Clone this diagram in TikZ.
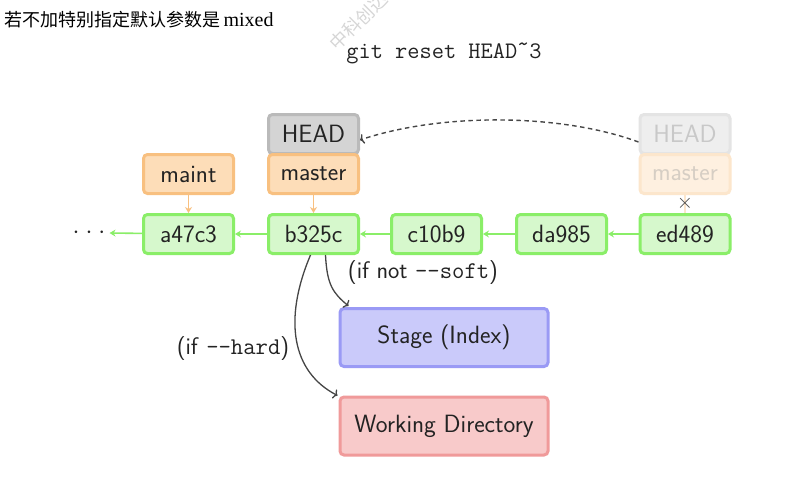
\documentclass[tikz,border=0pt]{standalone}
\usepackage{fontspec}
\newfontfamily\cjk{Noto Sans CJK SC}
\newfontfamily\tms{Liberation Serif}
\usetikzlibrary{arrows.meta,calc}
\definecolor{grnB}{RGB}{138,238,104}
\definecolor{grnF}{RGB}{214,248,204}
\definecolor{orgB}{RGB}{248,192,128}
\definecolor{orgF}{RGB}{253,221,184}
\definecolor{gryB}{RGB}{186,186,186}
\definecolor{gryF}{RGB}{212,212,212}
\definecolor{ghB}{RGB}{228,228,228}
\definecolor{ghF}{RGB}{238,238,238}
\definecolor{ghT}{RGB}{200,200,200}
\definecolor{gmB}{RGB}{252,230,204}
\definecolor{gmF}{RGB}{254,240,224}
\definecolor{gmT}{RGB}{214,206,196}
\definecolor{stB}{RGB}{154,154,245}
\definecolor{stF}{RGB}{202,202,250}
\definecolor{wdB}{RGB}{240,154,154}
\definecolor{wdF}{RGB}{248,202,202}
\definecolor{boxtext}{RGB}{35,35,35}
\definecolor{arr}{RGB}{70,70,70}
\definecolor{wm}{RGB}{214,214,214}
\begin{document}
\begin{tikzpicture}[x=1pt,y=-1pt,
  box/.style={rounded corners=4pt, line width=3pt, minimum width=90pt, minimum height=39pt,
    inner sep=0pt, font=\sffamily\fontsize{25}{28}\selectfont, text=boxtext},
  commit/.style={box, draw=grnB, fill=grnF},
  branch/.style={box, draw=orgB, fill=orgF},
  headbox/.style={box, draw=gryB, fill=gryF},
  ghosthead/.style={box, draw=ghB, fill=ghF, text=ghT},
  ghostbranch/.style={box, draw=gmB, fill=gmF, text=gmT},
  area/.style={box, minimum width=208pt, minimum height=58pt, font=\sffamily\fontsize{25}{28}\selectfont},
  garrow/.style={draw=grnB, line width=1.6pt, -{Stealth[length=6pt,width=7pt,inset=2pt]}},
  oarrow/.style={draw=orgB, line width=1.6pt, -{Stealth[length=6pt,width=7pt,inset=2pt]}},
  darrow/.style={draw=arr, line width=1.3pt, -{To[length=4pt,width=10pt]}},
  lbl/.style={font=\sffamily\fontsize{24}{28}\selectfont, text=boxtext, inner sep=0pt}
]
\useasboundingbox (0,0) rectangle (787,479);
\fill[white] (0,0) rectangle (787,479);

% watermark
\node[wm, anchor=west, rotate=45, inner sep=0pt, font=\cjk\fontsize{18}{20}\selectfont] (wmark) at (333,47) {中科创达};

% top texts
\node[anchor=west, inner sep=0pt] (note) at (4,20) {{\cjk\fontsize{18}{20}\selectfont 若不加特别指定默认参数是} {\tms\fontsize{20}{22}\selectfont mixed}};
\node[inner sep=0pt, font=\ttfamily\fontsize{23.7}{26}\selectfont, text=boxtext] (cmd) at (444,53) {git reset HEAD\raisebox{0.3em}{\textasciitilde}3};

% heads and branches
\node[headbox] (head) at (313.5,134) {HEAD};
\node[branch] (master) at (313.5,174) {master};
\node[branch] (maint) at (188.5,174) {maint};
\node[ghosthead] (ghead) at (685,134) {HEAD};
\node[ghostbranch] (gmaster) at (685,174) {master};

% commits
\node[commit] (a47c3) at (188.5,234) {a47c3};
\node[commit] (b325c) at (313.5,234) {b325c};
\node[commit] (c10b9) at (436.5,234) {c10b9};
\node[commit] (da985) at (561.5,234) {da985};
\node[commit] (ed489) at (685,234) {ed489};
\node[inner sep=0pt, text=boxtext, font=\fontsize{26}{28}\selectfont] (dots) at (89,233) {$\cdot$\hspace{6pt}$\cdot$\hspace{6pt}$\cdot$};

% areas
\node[area, draw=stB, fill=stF] (stage) at (444,337.5) {Stage (Index)};
\node[area, draw=wdB, fill=wdF] (wd) at (444,426) {Working Directory};

% commit links
\draw[garrow] (ed489) -- (da985);
\draw[garrow] (da985) -- (c10b9);
\draw[garrow] (c10b9) -- (b325c);
\draw[garrow] (b325c) -- (a47c3);
\draw[garrow] (a47c3) -- ($(dots.east)+(4,0)$);

% branch pointers
\draw[oarrow] (master) -- (b325c);
\draw[oarrow] (maint) -- (a47c3);
\draw[draw=gmB, line width=1.6pt] (gmaster) -- (ed489);
\node[inner sep=0pt, text=arr, font=\fontsize{22}{24}\selectfont] (cross) at (685,203) {$\times$};

% moved HEAD
\draw[arr, line width=1.4pt, dash pattern=on 4.5pt off 3.5pt, -{To[length=4pt,width=10pt]}]
  ($(ghead.west)+(0,8)$) .. controls (560,113) and (440,113) .. ($(head.east)+(0,6)$);

% reset effects
\draw[darrow] ($(b325c.south)+(12,0)$) .. controls (327,285) and (333,293) .. ($(stage.north west)+(10,-1)$);
\draw[darrow] ($(b325c.south)+(-3,0)$) .. controls (283,320) and (292,372) .. ($(wd.north west)+(-1,0)$);
\node[lbl] (soft) at (423,273) {(if not \texttt{-{}-soft})};
\node[lbl] (hard) at (233,349) {(if \texttt{-{}-hard})};
\end{tikzpicture}
\end{document}
